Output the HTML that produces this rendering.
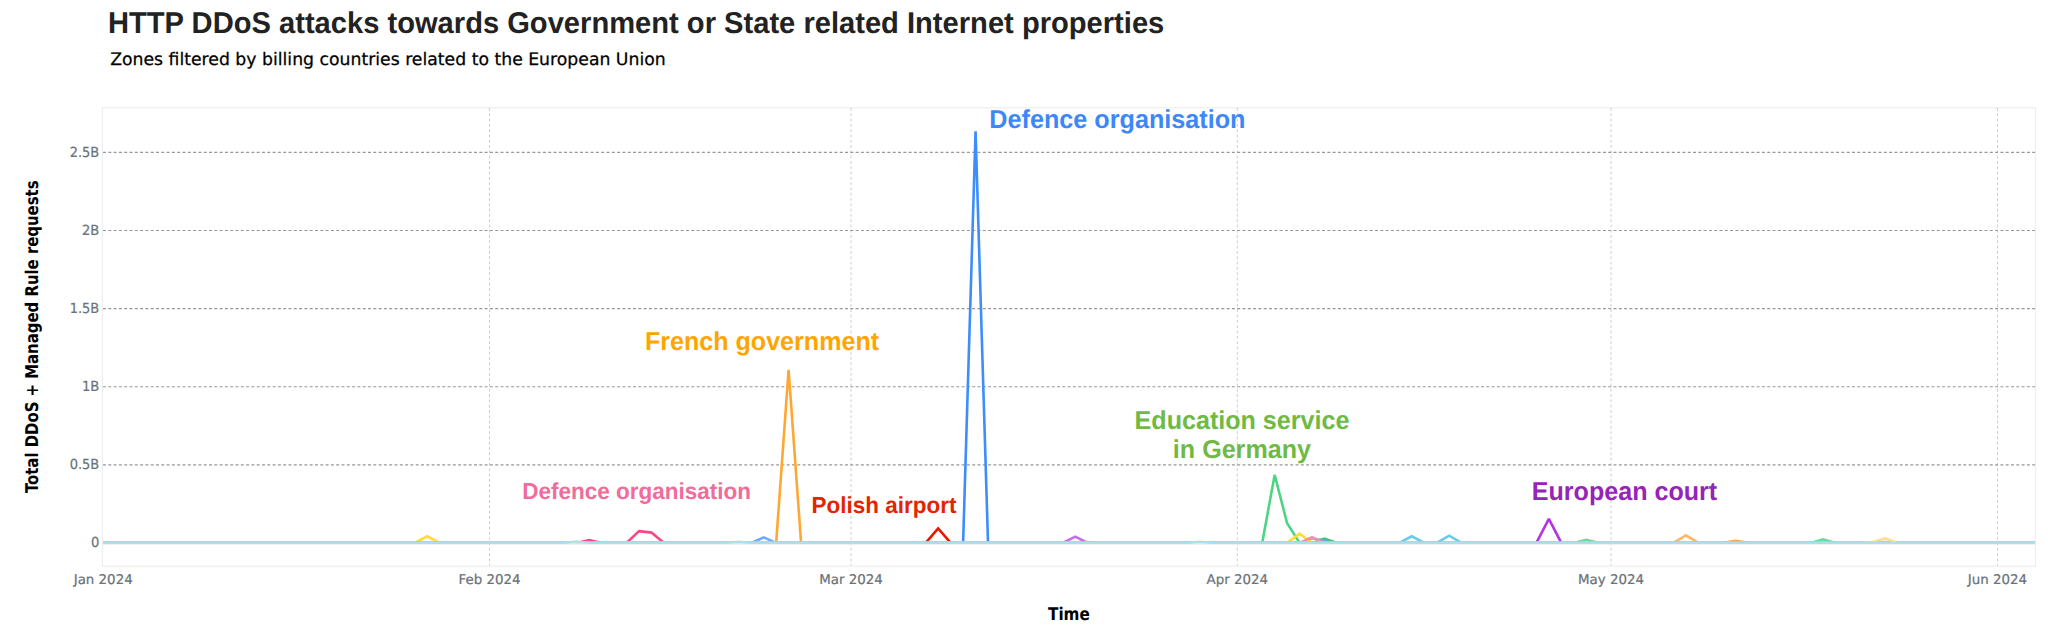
<!DOCTYPE html>
<html lang="en">
<head>
<meta charset="utf-8">
<title>HTTP DDoS attacks towards Government or State related Internet properties</title>
<style>
html,body{margin:0;padding:0;background:#fff;}
body{width:2048px;height:632px;overflow:hidden;font-family:"Liberation Sans",sans-serif;}
svg{display:block;}
svg text{text-rendering:geometricPrecision;}
</style>
</head>
<body>
<svg width="2048" height="632" viewBox="0 0 2048 632">
<rect width="2048" height="632" fill="#fff"/>
<rect x="102.4" y="107.8" width="1933.1" height="458.4" fill="none" stroke="#eeeeee" stroke-width="1.2"/>
<line x1="489.5" y1="107.9" x2="489.5" y2="565.6" stroke="#cecece" stroke-width="1" stroke-dasharray="2.9 2.4"/>
<line x1="851.0" y1="107.9" x2="851.0" y2="565.6" stroke="#cecece" stroke-width="1" stroke-dasharray="2.9 2.4"/>
<line x1="1237.3" y1="107.9" x2="1237.3" y2="565.6" stroke="#cecece" stroke-width="1" stroke-dasharray="2.9 2.4"/>
<line x1="1611.0" y1="107.9" x2="1611.0" y2="565.6" stroke="#cecece" stroke-width="1" stroke-dasharray="2.9 2.4"/>
<line x1="1997.5" y1="107.9" x2="1997.5" y2="565.6" stroke="#cecece" stroke-width="1" stroke-dasharray="2.9 2.4"/>
<line x1="103" y1="152.4" x2="2035" y2="152.4" stroke="#989898" stroke-width="1.15" stroke-dasharray="3 2.3"/>
<line x1="103" y1="230.5" x2="2035" y2="230.5" stroke="#989898" stroke-width="1.15" stroke-dasharray="3 2.3"/>
<line x1="103" y1="308.6" x2="2035" y2="308.6" stroke="#989898" stroke-width="1.15" stroke-dasharray="3 2.3"/>
<line x1="103" y1="386.7" x2="2035" y2="386.7" stroke="#989898" stroke-width="1.15" stroke-dasharray="3 2.3"/>
<line x1="103" y1="464.8" x2="2035" y2="464.8" stroke="#989898" stroke-width="1.15" stroke-dasharray="3 2.3"/>
<defs><clipPath id="above"><rect x="103" y="100" width="1932" height="443.4"/></clipPath></defs>
<g fill="none" stroke-linejoin="miter" stroke-miterlimit="2" clip-path="url(#above)">
<path d="M576.74,542.90L589.21,540.10L601.67,542.90 M626.60,542.90L639.06,531.10L651.52,532.60L663.98,542.90" stroke="#fc4584" stroke-width="2.6" />
<path d="M751.23,542.90L763.69,537.40L776.15,542.90 M1299.60,542.90L1312.06,538.30L1324.52,540.50L1336.99,542.90" stroke="#6fa8ff" stroke-width="2.6" />
<path d="M776.15,542.90L788.61,369.90L801.08,542.90" stroke="#ffa733" stroke-width="2.6" />
<path d="M925.71,542.90L938.17,528.50L950.63,542.90" stroke="#e81505" stroke-width="2.6" />
<path d="M963.10,542.90L975.56,131.40L988.02,542.90" stroke="#3d8dfd" stroke-width="2.6" />
<path d="M1062.80,542.90L1075.26,536.65L1087.73,542.90" stroke="#cc66f0" stroke-width="2.6" />
<path d="M1075.26,542.90L1087.73,542.00L1100.19,542.90 M1673.49,542.90L1685.95,535.30L1698.41,542.90" stroke="#ffb866" stroke-width="2.6" />
<path d="M1262.21,542.90L1274.67,474.90L1287.13,523.30L1299.60,542.90" stroke="#4cd584" stroke-width="2.6" />
<path d="M414.73,542.90L427.19,536.30L439.65,542.90 M1287.13,542.90L1299.60,533.70L1312.06,542.90" stroke="#ffdd33" stroke-width="2.6" />
<path d="M1312.06,542.90L1324.52,538.60L1336.99,542.90" stroke="#3fc878" stroke-width="2.6" />
<path d="M1299.60,542.90L1312.06,537.10L1324.52,542.90" stroke="#f78fb3" stroke-width="2.6" />
<path d="M1399.30,542.90L1411.77,536.30L1424.23,542.90 M1436.69,542.90L1449.15,535.70L1461.62,542.90" stroke="#66cce7" stroke-width="2.6" />
<path d="M1536.39,542.90L1548.86,518.90L1561.32,542.90" stroke="#b433e5" stroke-width="2.6" />
<path d="M1573.78,542.90L1586.25,539.85L1598.71,542.90 M1810.58,542.90L1823.04,539.40L1835.51,542.90" stroke="#66dd99" stroke-width="2.6" />
<path d="M1723.34,542.90L1735.80,540.80L1748.27,542.90" stroke="#ffa640" stroke-width="2.6" />
<path d="M1872.90,542.90L1885.36,542.10L1897.82,542.90" stroke="#c9a0f0" stroke-width="2.6" />
<path d="M1860.43,542.90L1872.90,542.00L1885.36,538.40L1897.82,542.90" stroke="#ffe08a" stroke-width="2.6" />
</g>
<rect x="103" y="541.1" width="1932" height="1.0" fill="#c0c2ca"/>
<rect x="103" y="543.6" width="1932" height="1.0" fill="#e6e7ea"/>
<g fill="none" stroke-linejoin="miter" stroke-miterlimit="2">
<path d="M103.15,542.90L1860.43,542.90L1872.90,542.00L1885.36,538.40L1897.82,542.90L2035.00,542.90" stroke="#ffe08a" stroke-width="1.6" />
<path d="M103.15,542.90L564.28,542.90L576.74,541.50L589.21,542.90L726.30,542.90L738.76,541.60L751.23,542.90L1187.43,542.90L1199.89,541.60L1212.36,542.90L2035.00,542.90" stroke="#a9e0ee" stroke-width="2.25" />
</g>
<text x="69.7" y="157.0" textLength="29.6" lengthAdjust="spacingAndGlyphs" style="font-family:'DejaVu Sans','Liberation Sans',sans-serif;font-size:13.4px;fill:#6a7279;stroke:#6a7279;stroke-width:0.22px;font-size:13.9px">2.5B</text>
<text x="82.0" y="235.1" textLength="17.3" lengthAdjust="spacingAndGlyphs" style="font-family:'DejaVu Sans','Liberation Sans',sans-serif;font-size:13.4px;fill:#6a7279;stroke:#6a7279;stroke-width:0.22px;font-size:13.9px">2B</text>
<text x="69.7" y="313.2" textLength="29.6" lengthAdjust="spacingAndGlyphs" style="font-family:'DejaVu Sans','Liberation Sans',sans-serif;font-size:13.4px;fill:#6a7279;stroke:#6a7279;stroke-width:0.22px;font-size:13.9px">1.5B</text>
<text x="82.0" y="391.2" textLength="17.3" lengthAdjust="spacingAndGlyphs" style="font-family:'DejaVu Sans','Liberation Sans',sans-serif;font-size:13.4px;fill:#6a7279;stroke:#6a7279;stroke-width:0.22px;font-size:13.9px">1B</text>
<text x="69.7" y="469.4" textLength="29.6" lengthAdjust="spacingAndGlyphs" style="font-family:'DejaVu Sans','Liberation Sans',sans-serif;font-size:13.4px;fill:#6a7279;stroke:#6a7279;stroke-width:0.22px;font-size:13.9px">0.5B</text>
<text x="91.0" y="546.9" textLength="8.3" lengthAdjust="spacingAndGlyphs" style="font-family:'DejaVu Sans','Liberation Sans',sans-serif;font-size:13.4px;fill:#6a7279;stroke:#6a7279;stroke-width:0.22px;font-size:13.9px">0</text>
<text x="103.2" y="583.9" text-anchor="middle" style="font-family:'DejaVu Sans','Liberation Sans',sans-serif;font-size:13.4px;fill:#6a7279;stroke:#6a7279;stroke-width:0.22px">Jan 2024</text>
<text x="489.5" y="583.9" text-anchor="middle" style="font-family:'DejaVu Sans','Liberation Sans',sans-serif;font-size:13.4px;fill:#6a7279;stroke:#6a7279;stroke-width:0.22px">Feb 2024</text>
<text x="851.0" y="583.9" text-anchor="middle" style="font-family:'DejaVu Sans','Liberation Sans',sans-serif;font-size:13.4px;fill:#6a7279;stroke:#6a7279;stroke-width:0.22px">Mar 2024</text>
<text x="1237.3" y="583.9" text-anchor="middle" style="font-family:'DejaVu Sans','Liberation Sans',sans-serif;font-size:13.4px;fill:#6a7279;stroke:#6a7279;stroke-width:0.22px">Apr 2024</text>
<text x="1611.0" y="583.9" text-anchor="middle" style="font-family:'DejaVu Sans','Liberation Sans',sans-serif;font-size:13.4px;fill:#6a7279;stroke:#6a7279;stroke-width:0.22px">May 2024</text>
<text x="1997.5" y="583.9" text-anchor="middle" style="font-family:'DejaVu Sans','Liberation Sans',sans-serif;font-size:13.4px;fill:#6a7279;stroke:#6a7279;stroke-width:0.22px">Jun 2024</text>
<text x="1048.0" y="619.7" textLength="41.8" lengthAdjust="spacingAndGlyphs" style="font-family:'DejaVu Sans Condensed','DejaVu Sans','Liberation Sans',sans-serif;font-weight:bold;font-size:17.6px;fill:#000">Time</text>
<text transform="translate(38.1,493.0) rotate(-90)" textLength="312.6" lengthAdjust="spacingAndGlyphs" style="font-family:'DejaVu Sans Condensed','DejaVu Sans','Liberation Sans',sans-serif;font-weight:bold;font-size:17.6px;fill:#000">Total DDoS + Managed Rule requests</text>
<text transform="translate(108.0,32.5) scale(1,1.03)" text-anchor="start" style="font-family:'Liberation Sans',sans-serif;font-weight:bold;font-size:29.13px;fill:#222">HTTP DDoS attacks towards Government or State related Internet properties</text>
<text x="110.2" y="65.0" style="font-family:'DejaVu Sans','Liberation Sans',sans-serif;font-size:17.25px;fill:#000;stroke:#000;stroke-width:0.25px">Zones filtered by billing countries related to the European Union</text>
<text transform="translate(1117.4,128.1) scale(1,1.03)" text-anchor="middle" style="font-family:'Liberation Sans',sans-serif;font-weight:bold;font-size:25.2px;fill:#3d87f8">Defence organisation</text>
<text transform="translate(762.0,350.4) scale(1,1.03)" text-anchor="middle" style="font-family:'Liberation Sans',sans-serif;font-weight:bold;font-size:25.1px;fill:#ffa500">French government</text>
<text transform="translate(636.7,498.8) scale(1,1.03)" text-anchor="middle" style="font-family:'Liberation Sans',sans-serif;font-weight:bold;font-size:22.5px;fill:#ef6c9b">Defence organisation</text>
<text transform="translate(884.0,513.4) scale(1,1.03)" text-anchor="middle" style="font-family:'Liberation Sans',sans-serif;font-weight:bold;font-size:22.5px;fill:#e22400">Polish airport</text>
<text transform="translate(1242.0,428.7) scale(1,1.03)" text-anchor="middle" style="font-family:'Liberation Sans',sans-serif;font-weight:bold;font-size:25.1px;fill:#6fba44">Education service</text>
<text transform="translate(1241.9,458.0) scale(1,1.03)" text-anchor="middle" style="font-family:'Liberation Sans',sans-serif;font-weight:bold;font-size:25.1px;fill:#6fba44">in Germany</text>
<text transform="translate(1624.5,499.6) scale(1,1.03)" text-anchor="middle" style="font-family:'Liberation Sans',sans-serif;font-weight:bold;font-size:25.1px;fill:#9524b8">European court</text>
</svg>
</body>
</html>
